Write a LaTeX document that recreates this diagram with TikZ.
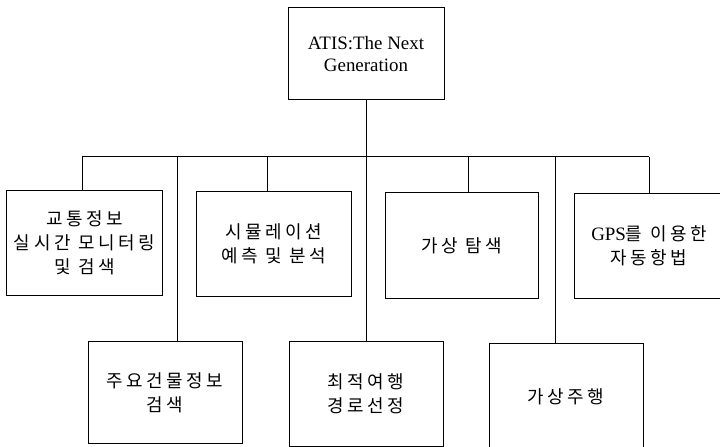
\documentclass[tikz,border=0pt]{standalone}
\usepackage{fontspec}
\setmainfont{Liberation Serif}
\newfontfamily\kr[LetterSpace=20]{Noto Sans CJK KR}
\begin{document}
\begin{tikzpicture}[x=1bp,y=-1bp,
  box/.style={draw, line width=1bp, inner sep=0pt, align=center, minimum width=154bp, minimum height=104bp},
  kt/.style={font=\kr\fontsize{18}{24}\selectfont},
  lt/.style={font=\fontsize{19}{23}\selectfont},
  conn/.style={line width=1bp}]
\useasboundingbox (0,0) rectangle (720,447);
\clip (0,0) rectangle (720,447);
% root
\node[box,lt,minimum width=156bp,minimum height=92bp] (root) at (366,54) {ATIS:The Next\\Generation};
% top row
\node[box,kt,minimum width=155bp] (b1) at (84.5,243) {교통정보\\실시간 모니터링\\및 검색};
\node[box,kt,minimum width=155bp] (b2) at (273.5,244) {시뮬레이션\\예측 및 분석};
\node[box,kt,minimum width=153bp,minimum height=105bp] (b3) at (461.5,245.5) {가상 탐색};
\node[box,kt,minimum width=150bp] (b4) at (649,246) {{\rmfamily\fontsize{19}{24}\selectfont GPS}를 이용한\\자동항법};
% bottom row
\node[box,kt,minimum height=101bp] (c1) at (165,392.5) {주요건물정보\\검색};
\node[box,kt] (c2) at (366,394) {최적여행\\경로선정};
\node[box,kt,minimum height=106bp] (c3) at (566,397) {가상주행};
% bus junctions
\coordinate (j1) at (82,157);
\coordinate (j2) at (177,157);
\coordinate (j3) at (267,157);
\coordinate (j4) at (468,157);
\coordinate (j5) at (555,157);
\coordinate (j6) at (649,157);
\draw[conn] (j1) -- (j6);
\draw[conn] (root.south) -- (c2.north);
\draw[conn] (j1) -- (j1 |- b1.north);
\draw[conn] (j3) -- (j3 |- b2.north);
\draw[conn] (j4) -- (j4 |- b3.north);
\draw[conn] (j6) -- (j6 |- b4.north);
\draw[conn] (j2) -- (j2 |- c1.north);
\draw[conn] (j5) -- (j5 |- c3.north);
\end{tikzpicture}
\end{document}
